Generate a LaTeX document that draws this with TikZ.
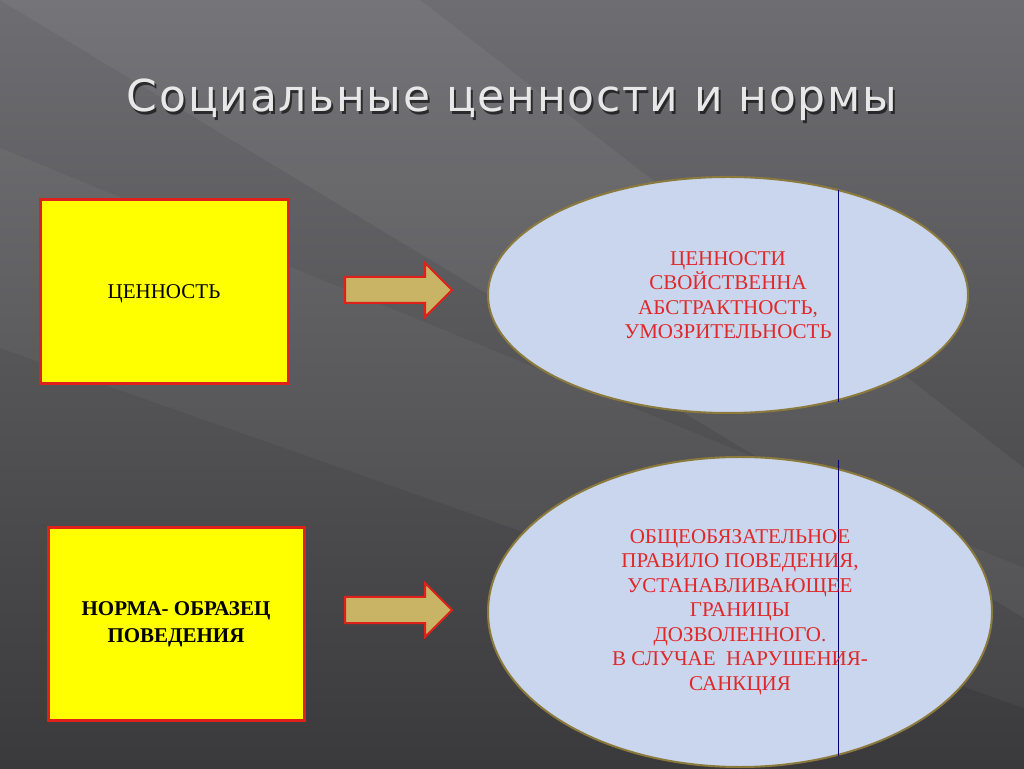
\documentclass[tikz,border=0pt]{standalone}
\usepackage{fontspec}
\setmainfont{Liberation Serif}
\newfontfamily\titlefont[LetterSpace=4]{DejaVu Sans}
\usetikzlibrary{shapes.geometric}
\definecolor{bgtop}{HTML}{6E6E72}
\definecolor{bgbot}{HTML}{3A3A3C}
\definecolor{yel}{HTML}{FFFF00}
\definecolor{redb}{HTML}{E0201A}
\definecolor{khaki}{HTML}{C8B464}
\definecolor{ellf}{HTML}{C9D6EE}
\definecolor{ellb}{HTML}{8C7A3C}
\definecolor{txtred}{HTML}{E02828}
\tikzset{
  ybox/.style={draw=redb,line width=3pt,fill=yel,inner sep=0pt},
  barrow/.style={draw=redb,line width=2pt,fill=khaki,line join=miter},
  oval/.style={ellipse,draw=ellb,line width=2pt,fill=ellf,inner sep=0pt},
  rtext/.style={text=txtred,align=center,font=\fontsize{21}{24.5}\selectfont},
}
\begin{document}
\begin{tikzpicture}[x=1pt,y=1pt]
\useasboundingbox (0,0) rectangle (1024,768);
\shade[top color=bgtop,bottom color=bgbot] (0,0) rectangle (1024,768);
\fill[white,opacity=0.05] (0,768) -- (420,768) -- (1024,300) -- (1024,150) -- cycle;
\fill[white,opacity=0.04] (0,620) -- (0,420) -- (1024,60) -- (1024,200) -- cycle;
\node[text=black,opacity=0.6,font=\titlefont\fontsize{44}{50}\selectfont] at (514,665) {Социальные ценности и нормы};
\node[text=white!82!gray,font=\titlefont\fontsize{44}{50}\selectfont] (title) at (512,668) {Социальные ценности и нормы};
\node[ybox,minimum width=248pt,minimum height=184pt] (b1) at (164,476) {};
\node[font=\fontsize{21}{24}\selectfont] at (164,474) {ЦЕННОСТЬ};
\node[ybox,minimum width=256pt,minimum height=192pt,align=center,font=\bfseries\fontsize{21}{27}\selectfont] (b2) at (176,144) {НОРМА- ОБРАЗЕЦ\\ПОВЕДЕНИЯ};
\foreach \yy/\nm in {478/a1,158/a2}{
  \draw[barrow] (345,\yy+13) -- (425,\yy+13) -- (425,\yy+27) -- (452,\yy) -- (425,\yy-27) -- (425,\yy-13) -- (345,\yy-13) -- cycle;
  \coordinate (\nm) at (398,\yy);
}
\node[oval,minimum width=480pt,minimum height=236pt] (e1) at (728,473) {};
\draw[blue!40!black,line width=0.8pt] (838,578) -- (838,366);
\node[rtext] at (728,473) {ЦЕННОСТИ\\СВОЙСТВЕННА\\АБСТРАКТНОСТЬ,\\УМОЗРИТЕЛЬНОСТЬ};
\node[oval,minimum width=504pt,minimum height=310pt] (e2) at (740,156) {};
\draw[blue!40!black,line width=0.8pt] (838,308) -- (838,12);
\node[rtext] at (740,156) {ОБЩЕОБЯЗАТЕЛЬНОЕ\\ПРАВИЛО ПОВЕДЕНИЯ,\\УСТАНАВЛИВАЮЩЕЕ\\ГРАНИЦЫ\\ДОЗВОЛЕННОГО.\\В СЛУЧАЕ \ НАРУШЕНИЯ-\\САНКЦИЯ};
\end{tikzpicture}
\end{document}
